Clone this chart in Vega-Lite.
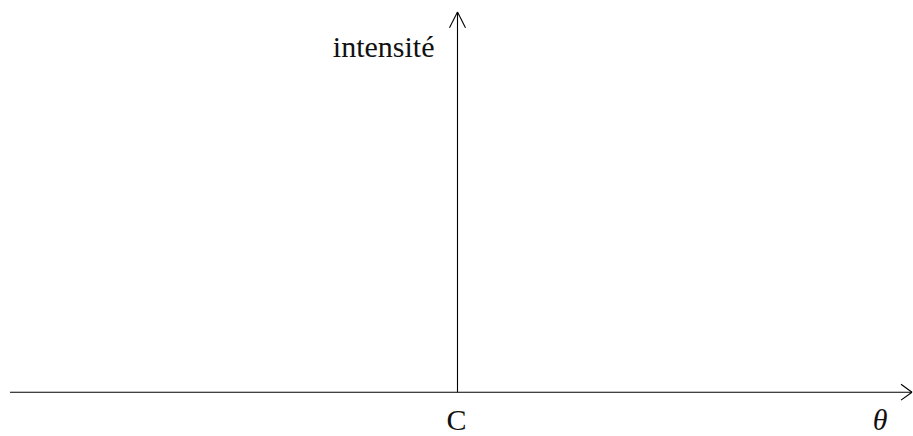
{
  "$schema": "https://vega.github.io/schema/vega-lite/v6.json",
  "width": 913,
  "height": 436,
  "autosize": {"type": "fit", "contains": "padding"},
  "padding": 0,
  "background": "white",
  "config": {"view": {"stroke": null}},
  "datasets": {
    "segments": [
      {"name": "axe theta", "x": -448, "y": 0, "x2": 455, "y2": 0},
      {"name": "axe intensite", "x": 0, "y": 0, "x2": 0, "y2": 382},
      {"name": "fleche haut g", "x": -8, "y": 366, "x2": 0, "y2": 382},
      {"name": "fleche haut d", "x": 8, "y": 366, "x2": 0, "y2": 382},
      {"name": "fleche droite h", "x": 444, "y": 8, "x2": 455, "y2": 0},
      {"name": "fleche droite b", "x": 444, "y": -8, "x2": 455, "y2": 0}
    ],
    "labels": [
      {"text": "intensité", "x": -23, "y": 337, "align": "right", "italic": false},
      {"text": "C", "x": -1, "y": -38, "align": "center", "italic": false},
      {"text": "θ", "x": 423, "y": -38, "align": "center", "italic": true}
    ]
  },
  "layer": [
    {
      "data": {"name": "segments"},
      "mark": {"type": "rule", "color": "#000000", "strokeWidth": 1.1},
      "encoding": {
        "x": {"field": "x", "type": "quantitative", "scale": {"domain": [-458, 455]}, "axis": null},
        "y": {"field": "y", "type": "quantitative", "scale": {"domain": [-42, 394]}, "axis": null},
        "x2": {"field": "x2"},
        "y2": {"field": "y2"}
      }
    },
    {
      "data": {"name": "labels"},
      "transform": [{"filter": "datum.align == 'right'"}],
      "mark": {"type": "text", "font": "'Liberation Serif', 'Times New Roman', serif", "fontSize": 30, "align": "right", "baseline": "alphabetic", "color": "#111111"},
      "encoding": {
        "x": {"field": "x", "type": "quantitative", "scale": {"domain": [-458, 455]}, "axis": null},
        "y": {"field": "y", "type": "quantitative", "scale": {"domain": [-42, 394]}, "axis": null},
        "text": {"field": "text"}
      }
    },
    {
      "data": {"name": "labels"},
      "transform": [{"filter": "datum.align == 'center' && !datum.italic"}],
      "mark": {"type": "text", "font": "'Liberation Serif', 'Times New Roman', serif", "fontSize": 30, "align": "center", "baseline": "alphabetic", "color": "#111111"},
      "encoding": {
        "x": {"field": "x", "type": "quantitative", "scale": {"domain": [-458, 455]}, "axis": null},
        "y": {"field": "y", "type": "quantitative", "scale": {"domain": [-42, 394]}, "axis": null},
        "text": {"field": "text"}
      }
    },
    {
      "data": {"name": "labels"},
      "transform": [{"filter": "datum.italic"}],
      "mark": {"type": "text", "font": "'Liberation Serif', 'Times New Roman', serif", "fontSize": 30, "fontStyle": "italic", "align": "center", "baseline": "alphabetic", "color": "#111111"},
      "encoding": {
        "x": {"field": "x", "type": "quantitative", "scale": {"domain": [-458, 455]}, "axis": null},
        "y": {"field": "y", "type": "quantitative", "scale": {"domain": [-42, 394]}, "axis": null},
        "text": {"field": "text"}
      }
    }
  ]
}
